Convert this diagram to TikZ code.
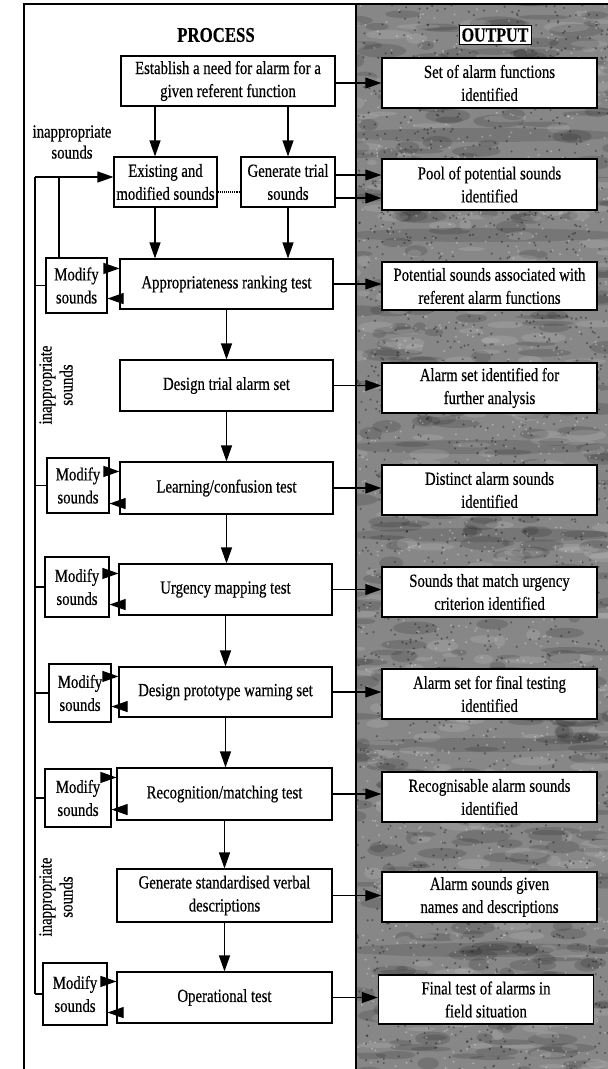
\documentclass[tikz,border=0pt]{standalone}
\usepackage{fontspec}
\setmainfont{Liberation Serif}[FakeStretch=0.8, FakeBold=0.5]
\usetikzlibrary{arrows.meta,calc}

\begin{document}
\begin{tikzpicture}[x=1pt,y=-1pt,
  every node/.style={font=\fontsize{18.5}{23}\selectfont, align=center, inner sep=0pt},
  pbox/.style={draw, line width=1.1pt, fill=white, minimum width=213pt, minimum height=50pt},
  mbox/.style={draw, line width=1.1pt, fill=white, minimum width=62pt, minimum height=56pt},
  obox/.style={draw, line width=1.5pt, fill=white, minimum width=215pt, minimum height=50pt},
  link/.style={line width=1.1pt},
  arr/.style={line width=1.1pt, -{Triangle[length=16pt,width=11pt]}},
  heading/.style={font=\fontsize{21}{25}\selectfont\bfseries},
  sidenote/.style={font=\fontsize{18.5}{21}\selectfont, align=center}
]
\useasboundingbox (0,0) rectangle (608,1069);

% ---- output panel with grainy texture ----
\fill[black!47] (356,4) rectangle (608,1069);
\begin{scope}
  \clip (356,4) rectangle (608,1069);
  \pgfmathsetseed{17}
  % darker horizontal streaks
  \foreach \yy in {135, 235, 447, 535, 745, 950} {
    \fill[black, opacity=0.12] (482,\yy) ellipse (140pt and 7pt);
  }
  % mottled blotches
  \foreach \i in {1,...,420} {
    \pgfmathsetmacro\px{350+rnd*265}
    \pgfmathsetmacro\py{rnd*1075}
    \pgfmathsetmacro\rx{6+rnd*22}
    \pgfmathsetmacro\ry{2+rnd*5}
    \fill[black, opacity=0.14] (\px,\py) ellipse (\rx pt and \ry pt);
  }
  \foreach \i in {1,...,260} {
    \pgfmathsetmacro\px{350+rnd*265}
    \pgfmathsetmacro\py{rnd*1075}
    \pgfmathsetmacro\rx{5+rnd*18}
    \pgfmathsetmacro\ry{2+rnd*4}
    \fill[white, opacity=0.12] (\px,\py) ellipse (\rx pt and \ry pt);
  }
  % grain
  \foreach \i in {1,...,1800} {
    \pgfmathsetmacro\px{357+rnd*251}
    \pgfmathsetmacro\py{5+rnd*1064}
    \fill[black, opacity=0.35] (\px,\py) circle (1.2pt);
  }
  \foreach \i in {1,...,1100} {
    \pgfmathsetmacro\px{357+rnd*251}
    \pgfmathsetmacro\py{5+rnd*1064}
    \fill[white, opacity=0.3] (\px,\py) circle (1.1pt);
  }
\end{scope}

% ---- frame ----
\draw[line width=1.1pt] (24,1069) -- (24,4) -- (608,4);
\draw[line width=1.4pt] (356,4) -- (356,1069);

% ---- headings ----
\node[heading] (hproc) at (216,35) {PROCESS};
\node[heading, font=\fontsize{20}{24}\selectfont\bfseries, fill=white, draw, line width=0.6pt, inner sep=2.5pt] (hout) at (495,35) {OUTPUT};

% ---- process column ----
\node[pbox, minimum width=214pt] (est) at (228,81) {Establish a need for alarm for a\\given referent function};
\node[pbox, minimum width=103pt] (exist) at (165.5,182) {Existing and\\modified sounds};
\node[pbox, minimum width=94pt] (gen) at (288,182) {Generate trial\\sounds};
\node[pbox] (appr) at (226.5,284) {Appropriateness ranking test};
\node[pbox, minimum height=51pt] (trial) at (226.5,385.5) {Design trial alarm set};
\node[pbox, minimum height=52pt] (learn) at (226.5,488) {Learning/confusion test};
\node[pbox, minimum height=51pt] (urg) at (225.5,589.5) {Urgency mapping test};
\node[pbox] (proto) at (225.5,692) {Design prototype warning set};
\node[pbox, minimum width=215pt, minimum height=52pt] (recog) at (224.5,794) {Recognition/matching test};
\node[pbox, minimum width=215pt, minimum height=53pt] (verbal) at (224.5,895.5) {Generate standardised verbal\\descriptions};
\node[pbox, minimum width=215pt, minimum height=51pt] (oper) at (224.5,997.5) {Operational test};

% ---- modify boxes ----
\node[mbox, minimum width=61pt, minimum height=55pt] (m1) at (76.5,285.5) {Modify\\sounds};
\node[mbox, minimum height=55pt] (m2) at (78,485.5) {Modify\\sounds};
\node[mbox, minimum width=64pt, minimum height=60pt] (m3) at (77,587) {Modify\\sounds};
\node[mbox, minimum height=58pt] (m4) at (80,693) {Modify\\sounds};
\node[mbox, minimum width=66pt, minimum height=58pt] (m5) at (78,798) {Modify\\sounds};
\node[mbox, minimum width=64pt, minimum height=62pt] (m6) at (75,994) {Modify\\sounds};

% ---- output column ----
\node[obox] (o1) at (489.5,83) {Set of alarm functions\\identified};
\node[obox, minimum height=51pt] (o2) at (489.5,184.5) {Pool of potential sounds\\identified};
\node[obox, minimum height=48pt] (o3) at (489.5,286) {Potential sounds associated with\\referent alarm functions};
\node[obox] (o4) at (489.5,388) {Alarm set identified for\\further analysis};
\node[obox] (o5) at (489.5,490) {Distinct alarm sounds\\identified};
\node[obox] (o6) at (489.5,592) {Sounds that match urgency\\criterion identified};
\node[obox] (o7) at (489.5,694) {Alarm set for final testing\\identified};
\node[obox] (o8) at (489.5,797) {Recognisable alarm sounds\\identified};
\node[obox] (o9) at (489.5,897) {Alarm sounds given\\names and descriptions};
\node[obox, minimum height=49pt] (o10) at (486,999.5) {Final test of alarms in\\field situation};

% ---- side notes ----
\node[sidenote] (n1) at (72,142) {inappropriate\\sounds};
\node[sidenote, rotate=90] (n2) at (56,385) {inappropriate\\sounds};
\node[sidenote, rotate=90] (n3) at (56,897) {inappropriate\\sounds};

% ---- helper coordinates ----
\coordinate (a1) at (155,0);
\coordinate (a2) at (288,0);
\coordinate (g1) at (0,175);
\coordinate (g2) at (0,198);
\coordinate (d1) at (0,192);
\coordinate (fb) at (35,177);
\coordinate (fb2) at (59,177);

% ---- main flow ----
\draw[arr] (est.south -| a1) -- (exist.north -| a1);
\draw[arr] (est.south -| a2) -- (gen.north -| a2);
\draw[link, densely dotted] (exist.east |- d1) -- (gen.west |- d1);
\draw[arr] (exist.south -| a1) -- (appr.north -| a1);
\draw[arr] (gen.south -| a2) -- (appr.north -| a2);
\draw[arr] (appr.south) -- (appr.south |- trial.north);
\draw[arr] (trial.south) -- (trial.south |- learn.north);
\draw[arr] (learn.south) -- (learn.south |- urg.north);
\draw[arr] (urg.south) -- (urg.south |- proto.north);
\draw[arr] (proto.south) -- (proto.south |- recog.north);
\draw[arr] (recog.south) -- (recog.south |- verbal.north);
\draw[arr] (verbal.south) -- (verbal.south |- oper.north);

% ---- process to output ----
\draw[arr] (est.east |- o1.west) -- (o1.west);
\draw[arr] (gen.east |- g1) -- (o2.west |- g1);
\draw[arr] (gen.east |- g2) -- (o2.west |- g2);
\draw[arr] (appr.east) -- (o3.west |- appr.east);
\draw[arr] (trial.east) -- (o4.west |- trial.east);
\draw[arr] (learn.east) -- (o5.west |- learn.east);
\draw[arr] (urg.east) -- (o6.west |- urg.east);
\draw[arr] (proto.east) -- (o7.west |- proto.east);
\draw[arr] (recog.east) -- (o8.west |- recog.east);
\draw[arr] (verbal.east) -- (o9.west |- verbal.east);
\draw[arr] (oper.east) -- (o10.west |- oper.east);

% ---- modify loops ----
\foreach \m/\p in {m1/appr, m2/learn, m3/urg, m4/proto, m5/recog, m6/oper} {
  \draw[arr] ($(\m.east |- \p.north)+(0,10)$) -- ($(\p.north west)+(0,10)$);
  \draw[arr] ($(\p.south west)+(0,-11)$) -- ($(\m.east |- \p.south)+(0,-11)$);
  \draw[link] (fb |- \m.west) -- (\m.west);
}

% ---- feedback of inappropriate sounds ----
\draw[link] (fb |- m6.west) -- (fb);
\draw[arr] (fb) -- (exist.west |- fb);
\draw[link] (fb2) -- (fb2 |- m1.north);

\end{tikzpicture}
\end{document}
